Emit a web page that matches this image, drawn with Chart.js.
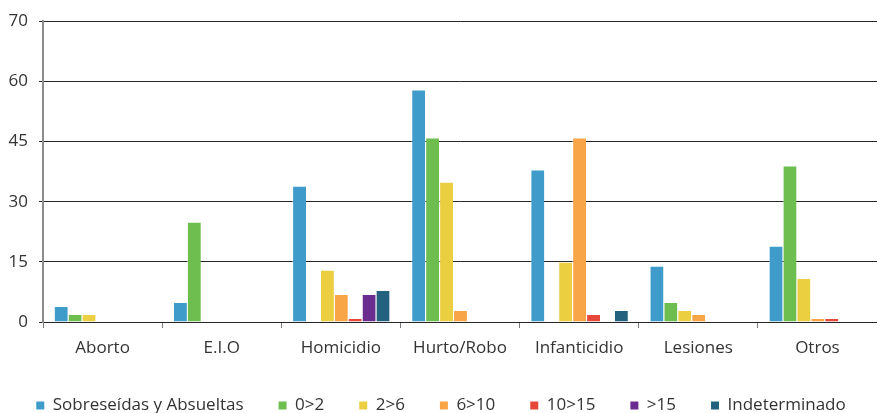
<!DOCTYPE html>
<html>
<head>
<meta charset="utf-8">
<script src="https://cdn.jsdelivr.net/npm/chart.js@4/dist/chart.umd.min.js"></script>
<style>
  html, body { margin: 0; padding: 0; background: #fff; }
  #wrap { width: 877px; height: 413px; }
</style>
</head>
<body>
<div id="wrap"><canvas id="chart"></canvas></div>
<script>
const categories = ["Aborto", "E.I.O", "Homicidio", "Hurto/Robo", "Infanticidio", "Lesiones", "Otros"];

// null = no bar in that slot
const sobreseidas   = [4, 5, 34, 58, 38, 14, 19];
const de0a2         = [2, 25, null, 46, null, 5, 39];
const de2a6         = [2, null, 13, 35, 15, 3, 11];
const de6a10        = [null, null, 7, 3, 46, 2, 1];
const de10a15       = [null, null, 1, null, 2, null, 1];
const mas15         = [null, null, 7, null, null, null, null];
const indeterminado = [null, null, 8, null, 3, null, null];

// the picture labels its top gridline "70" although it sits one 15-step above 60
const tickValues = [0, 15, 30, 45, 60, 75];
const tickLabels = ["0", "15", "30", "45", "60", "70"];

const seriesNames = ["Sobreseídas y Absueltas", "0>2", "2>6", "6>10", "10>15", ">15", "Indeterminado"];
const seriesData = [sobreseidas, de0a2, de2a6, de6a10, de10a15, mas15, indeterminado];
const seriesColors = ["#3e9bca", "#6dbe4f", "#ecce41", "#f8a548", "#e8483a", "#6a2c8e", "#23617f"];

const FONT = "'Open Sans', sans-serif";
const TEXT = "#333333";

const ctx = document.getElementById("chart").getContext("2d");

new Chart(ctx, {
  type: "bar",
  data: {
    labels: categories,
    datasets: seriesNames.map((name, i) => ({
      label: name,
      data: seriesData[i],
      backgroundColor: seriesColors[i],
      borderColor: "rgba(255,255,255,0.5)",
      borderWidth: { top: 1, left: 1, right: 0, bottom: 0 },
      borderSkipped: "bottom",
      categoryPercentage: 0.818,
      barPercentage: 1.0,
    })),
  },
  options: {
    responsive: true,
    maintainAspectRatio: false,
    animation: false,
    layout: {
      padding: { top: 19, right: -5, bottom: -11, left: 0 },
    },
    plugins: {
      tooltip: { enabled: false },
      legend: {
        display: true,
        position: "bottom",
        labels: {
          color: TEXT,
          font: { family: FONT, size: 17 },
          boxWidth: 8,
          boxHeight: 8,
          padding: 35,
          generateLabels: (chart) =>
            Chart.defaults.plugins.legend.labels.generateLabels(chart).map((l) => ({ ...l, lineWidth: 0 })),
        },
      },
    },
    scales: {
      x: {
        grid: {
          display: true,
          drawOnChartArea: false,
          offset: true,
          tickLength: 6,
          color: "#7a7a7a",
        },
        border: { display: true, color: "#262626", width: 1 },
        ticks: {
          color: TEXT,
          font: { family: FONT, size: 17 },
          padding: 10,
          maxRotation: 0,
        },
        afterFit: (scale) => { scale.height = 40; },
      },
      y: {
        min: 0,
        max: 75,
        afterBuildTicks: (axis) => {
          axis.ticks = tickValues.map((v) => ({ value: v }));
        },
        grid: {
          color: "#262626",
          lineWidth: 1,
          tickLength: 4,
        },
        border: { display: true, color: "#8c8c8c", width: 2 },
        ticks: {
          color: TEXT,
          font: { family: FONT, size: 17 },
          padding: 11,
          callback: (value) => tickLabels[tickValues.indexOf(value)],
        },
        afterFit: (scale) => { scale.width = 43; },
      },
    },
  },
});
</script>
</body>
</html>
